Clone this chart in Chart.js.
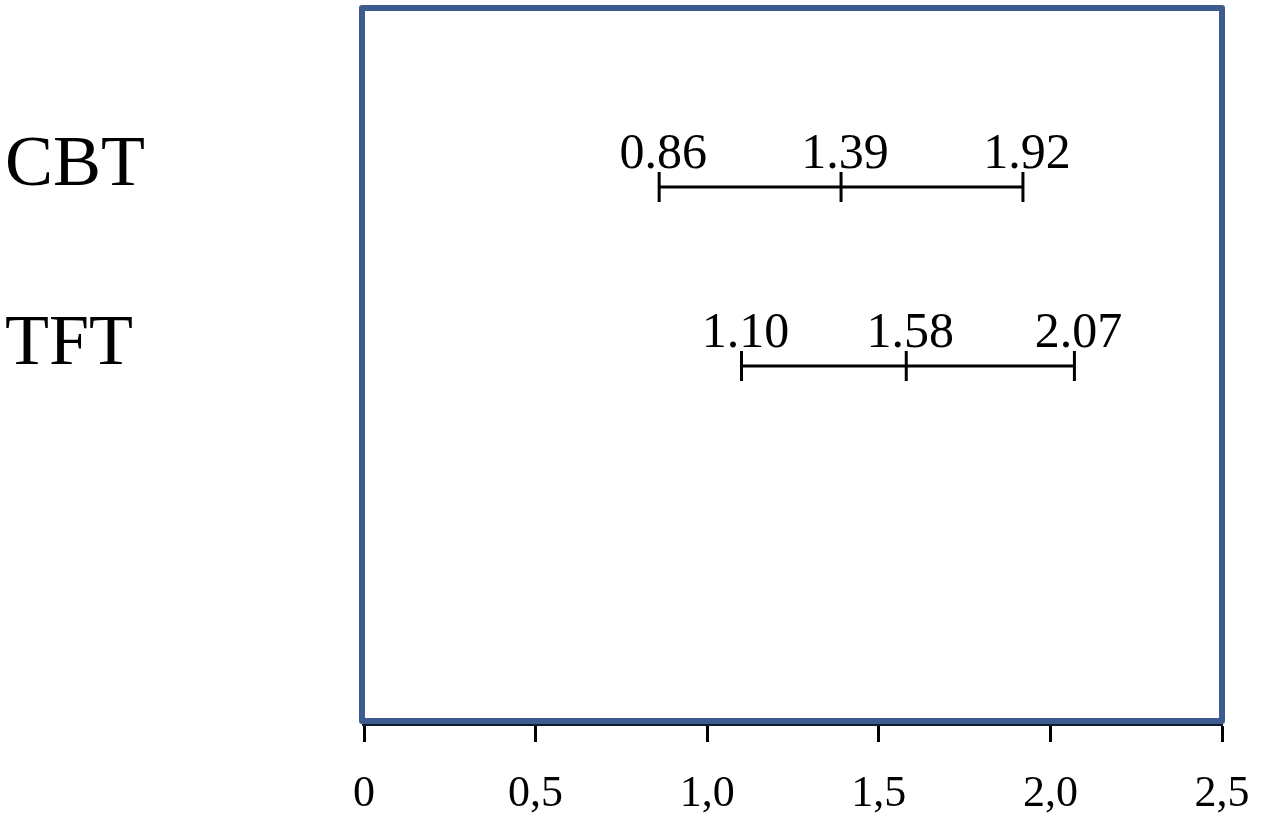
<!DOCTYPE html>
<html lang="en">
<head>
    <meta charset="UTF-8">
    <title>CBT vs TFT</title>
    <script src="https://cdn.jsdelivr.net/npm/chart.js"></script>
    <style>
        html, body { margin: 0; padding: 0; background: #fff; }
        .wrap { width: 1267px; height: 832px; }
    </style>
</head>
<body>
    <div class="wrap">
        <canvas id="forestChart" width="1267" height="832"></canvas>
    </div>

    <script>
        // groups and their interval values (lower, estimate, upper)
        const groups = ['CBT', 'TFT'];
        const lowerValues = [0.86, 1.10];
        const midValues = [1.39, 1.58];
        const upperValues = [1.92, 2.07];
        const xTicks = [0, 0.5, 1.0, 1.5, 2.0, 2.5];

        const serif = "'Liberation Serif', 'Times New Roman', serif";

        // one line dataset per group, y position = group index + 1
        const datasets = groups.map((g, i) => ({
            label: g,
            data: [
                { x: lowerValues[i], y: i + 1 },
                { x: midValues[i], y: i + 1 },
                { x: upperValues[i], y: i + 1 }
            ],
            borderColor: '#000',
            borderWidth: 3,
            pointStyle: 'line',
            rotation: 90,
            pointRadius: 15,
            pointBorderWidth: 3,
            pointBorderColor: '#000',
            showLine: true
        }));

        // value text above each marker
        const valueLabels = {
            id: 'valueLabels',
            afterDatasetsDraw(chart) {
                const ctx = chart.ctx;
                ctx.save();
                ctx.font = '50px ' + serif;
                ctx.fillStyle = '#000';
                ctx.textAlign = 'center';
                ctx.textBaseline = 'alphabetic';
                chart.data.datasets.forEach((ds, di) => {
                    chart.getDatasetMeta(di).data.forEach((pt, pi) => {
                        ctx.fillText(ds.data[pi].x.toFixed(2), pt.x + 4, pt.y - 19);
                    });
                });
                ctx.restore();
            }
        };

        // blue frame round the plot area
        const plotFrame = {
            id: 'plotFrame',
            beforeDatasetsDraw(chart) {
                const a = chart.chartArea;
                const ctx = chart.ctx;
                ctx.save();
                ctx.strokeStyle = '#3d5b8e';
                ctx.lineWidth = 6;
                ctx.lineJoin = 'round';
                ctx.strokeRect(a.left - 2, a.top, a.right - a.left + 2, a.bottom - a.top - 3);
                ctx.restore();
            }
        };

        const ctx = document.getElementById('forestChart').getContext('2d');
        new Chart(ctx, {
            type: 'scatter',
            data: { datasets: datasets },
            plugins: [plotFrame, valueLabels],
            options: {
                responsive: false,
                animation: false,
                layout: { autoPadding: false, padding: { left: 5, right: 45, top: 8, bottom: 0 } },
                plugins: {
                    legend: { display: false },
                    tooltip: { enabled: false }
                },
                scales: {
                    x: {
                        type: 'linear',
                        min: 0,
                        max: 2.5,
                        afterBuildTicks: (scale) => {
                            scale.ticks = xTicks.map(v => ({ value: v }));
                        },
                        afterFit: (scale) => {
                            scale.height = 108;
                            scale.paddingLeft = 0;
                            scale.paddingRight = 0;
                        },
                        ticks: {
                            padding: 26,
                            color: '#000',
                            font: { family: serif, size: 44 },
                            maxRotation: 0,
                            callback: (v) => v === 0 ? '0' : v.toFixed(1).replace('.', ',')
                        },
                        grid: {
                            drawOnChartArea: false,
                            drawTicks: true,
                            tickLength: 18,
                            tickWidth: 3,
                            tickColor: '#000'
                        },
                        border: { display: true, color: '#111a2c', width: 4 }
                    },
                    y: {
                        type: 'linear',
                        reverse: true,
                        min: 0,
                        max: 4,
                        afterBuildTicks: (scale) => {
                            scale.ticks = groups.map((g, i) => ({ value: i + 1 }));
                        },
                        afterFit: (scale) => {
                            scale.width = 359;
                            scale.paddingTop = 0;
                            scale.paddingBottom = 0;
                        },
                        ticks: {
                            crossAlign: 'far',
                            labelOffset: -21,
                            color: '#000',
                            font: { family: serif, size: 72 },
                            callback: (v) => groups[v - 1] || ''
                        },
                        grid: { display: false, drawTicks: false },
                        border: { display: false }
                    }
                }
            }
        });
    </script>
</body>
</html>
